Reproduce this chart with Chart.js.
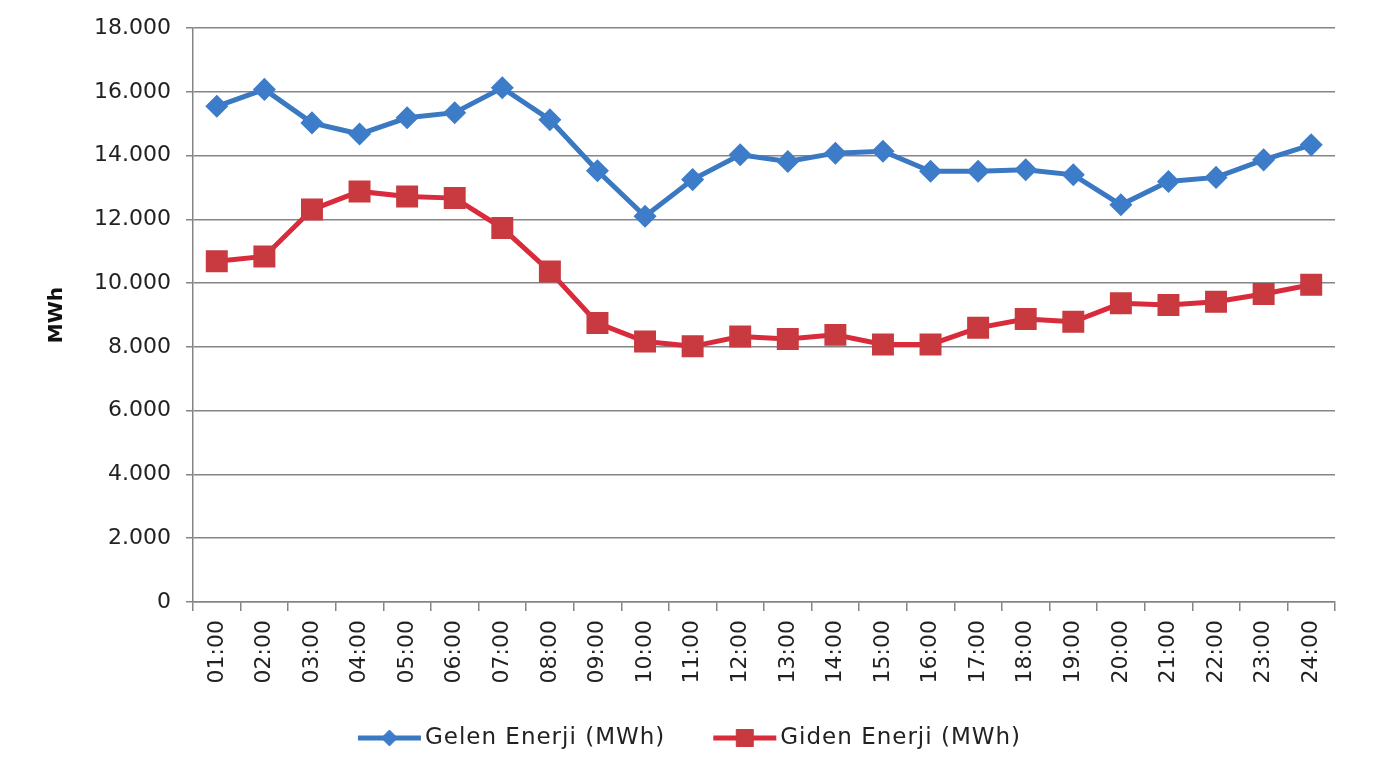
<!DOCTYPE html>
<html>
<head>
<meta charset="utf-8">
<title>Gelen / Giden Enerji</title>
<script src="https://cdn.jsdelivr.net/npm/chart.js"></script>
<style>
  html, body { margin: 0; padding: 0; background: #fff; }
  #energyChart { display: block; }
</style>
</head>
<body>
<canvas id="energyChart" width="1379" height="767"></canvas>
<script>
// hours on the x axis
const hours = ['01:00', '02:00', '03:00', '04:00', '05:00', '06:00', '07:00', '08:00',
  '09:00', '10:00', '11:00', '12:00', '13:00', '14:00', '15:00', '16:00',
  '17:00', '18:00', '19:00', '20:00', '21:00', '22:00', '23:00', '24:00'];

// values (MWh)
const gelenEnerji = [15550, 16080, 15030, 14680, 15190, 15350, 16130, 15130,
  13530, 12100, 13250, 14030, 13820, 14080, 14140, 13510,
  13510, 13560, 13400, 12460, 13190, 13320, 13870, 14340];
const gidenEnerji = [10690, 10840, 12310, 12880, 12720, 12670, 11730, 10370,
  8750, 8170, 8020, 8330, 8250, 8380, 8080, 8080,
  8600, 8880, 8790, 9370, 9320, 9420, 9660, 9950];

const yTickLabels = ['0', '2.000', '4.000', '6.000', '8.000', '10.000', '12.000', '14.000', '16.000', '18.000'];

const seriesNames = ['Gelen Enerji (MWh)', 'Giden Enerji (MWh)'];

const blue = '#3b78c2';
const red = '#d92b3c';
const redMarker = '#c83a3f';
const gridColor = '#858585';

Chart.defaults.font.family = "'DejaVu Sans', sans-serif";
Chart.defaults.color = '#222';

// Excel style legend: short line with the marker on it
const lineLegend = {
  id: 'lineLegend',
  afterDraw(chart) {
    const ctx = chart.ctx;
    const y = chart.height - 29;
    const lineW = 63, gap = 4, itemGap = 48;
    ctx.save();
    ctx.font = "23px 'DejaVu Sans', sans-serif";
    ctx.letterSpacing = '1px';
    const items = chart.data.datasets.map(ds => ({ ds, w: lineW + gap + ctx.measureText(ds.label).width }));
    const total = items.reduce((s, it) => s + it.w, 0) + itemGap * (items.length - 1);
    let x = chart.width / 2 - total / 2;
    items.forEach(({ ds, w }) => {
      ctx.strokeStyle = ds.borderColor;
      ctx.lineWidth = ds.borderWidth;
      ctx.beginPath();
      ctx.moveTo(x, y);
      ctx.lineTo(x + lineW, y);
      ctx.stroke();
      ctx.fillStyle = ds.pointBackgroundColor;
      ctx.strokeStyle = ds.pointBorderColor;
      ctx.lineWidth = 1;
      Chart.helpers.drawPoint(ctx, { pointStyle: ds.pointStyle, radius: ds.pointRadius, borderWidth: 1, rotation: 0 }, x + lineW / 2, y);
      ctx.fillStyle = '#222';
      ctx.textAlign = 'left';
      ctx.textBaseline = 'middle';
      ctx.fillText(ds.label, x + lineW + gap, y);
      x += w + itemGap;
    });
    ctx.restore();
  }
};

const ctx = document.getElementById('energyChart').getContext('2d');

const energyChart = new Chart(ctx, {
  type: 'line',
  data: {
    labels: hours,
    datasets: [{
      label: seriesNames[0],
      data: gelenEnerji,
      borderColor: blue,
      borderWidth: 5,
      pointStyle: 'rectRot',
      pointRadius: 8,
      pointBackgroundColor: '#3d7cc9',
      pointBorderColor: '#3d7cc9',
      tension: 0
    }, {
      label: seriesNames[1],
      data: gidenEnerji,
      borderColor: red,
      borderWidth: 5,
      pointStyle: 'rect',
      pointRadius: 12,
      pointBackgroundColor: redMarker,
      pointBorderColor: redMarker,
      tension: 0
    }]
  },
  options: {
    responsive: false,
    animation: false,
    layout: { padding: { top: 27, right: 44, bottom: 62, left: 0 } },
    plugins: {
      legend: { display: false },
      tooltip: { enabled: false }
    },
    scales: {
      y: {
        min: 0,
        max: 18000,
        afterFit: (scale) => { scale.width = 193; },
        ticks: {
          stepSize: 2000,
          padding: 15,
          font: { size: 22 },
          color: '#222',
          callback: (v) => yTickLabels[Math.round(v / 2000)]
        },
        grid: { color: gridColor, lineWidth: 1.5, tickLength: 7 },
        border: { color: gridColor, width: 1.5 },
        title: {
          display: true,
          text: 'MWh',
          font: { size: 20, weight: 'bold' },
          color: '#111',
          padding: { top: 45, bottom: 0 }
        }
      },
      x: {
        offset: true,
        afterFit: (scale) => { scale.height = 103; },
        ticks: {
          autoSkip: false,
          minRotation: 90,
          maxRotation: 90,
          padding: 9,
          font: { size: 22 },
          color: '#222'
        },
        grid: { offset: true, drawOnChartArea: false, color: gridColor, lineWidth: 1.5, tickLength: 9 },
        border: { color: gridColor, width: 1.5 }
      }
    }
  },
  plugins: [lineLegend]
});
</script>
</body>
</html>
